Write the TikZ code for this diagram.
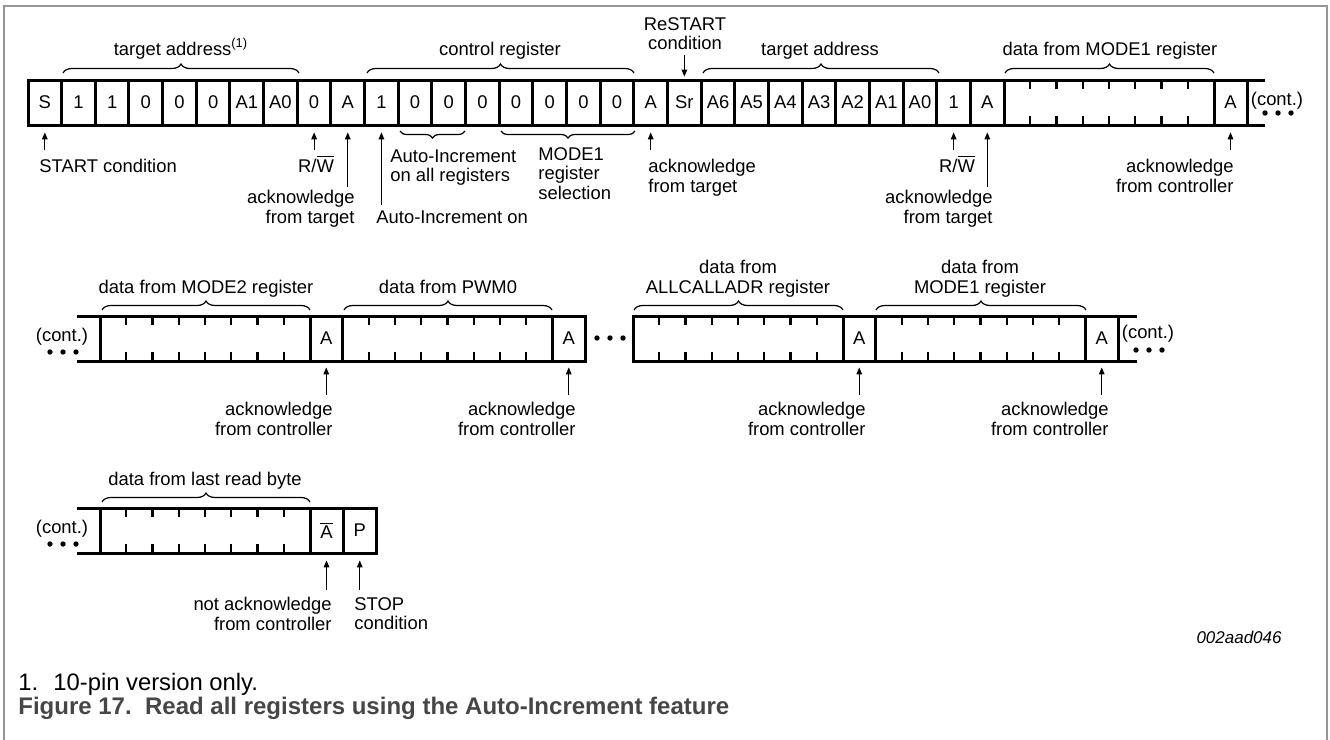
\documentclass[tikz,border=0pt]{standalone}
\usepackage{fontspec}
\setmainfont{Liberation Sans}
\usepackage{xcolor}
\usepackage{tikz}
\usetikzlibrary{arrows.meta,decorations.pathreplacing}

\definecolor{framegray}{RGB}{150,150,150}
\definecolor{captiongray}{RGB}{70,70,70}
\newcommand{\ovbar}[1]{$\overline{\hbox{#1}}$}

\begin{document}
\begin{tikzpicture}[x=0.5pt,y=-0.5pt,
  bar/.style={line width=1.5pt,line cap=rect},
  tick/.style={line width=1.2pt},
  cell/.style={minimum width=16.8pt,minimum height=22.5pt,inner sep=0pt,font=\labelfont},
  lbl/.style={inner sep=0pt,font=\labelfont},
  ptr/.style={line width=0.6pt,-{Triangle[length=3.5pt,width=2.8pt]}},
  brc/.style={line width=0.6pt,decorate,decoration={brace,amplitude=4.5pt}},
  brcdown/.style={line width=0.6pt,decorate,decoration={brace,amplitude=3.5pt,mirror}}]
\def\labelfont{\fontsize{9.2}{9.75}\selectfont}
\def\cellw{33.66}
\def\subw{26.25}
\def\dotgap{13}
\useasboundingbox (0,0) rectangle (1330,740);
\draw[framegray, line width=1pt] (4,740) -- (4,6) -- (1327,6) -- (1327,740);

\begin{scope}[shift={(0,80)}] % FIRST ROW
\draw[bar] (28,0) -- (1263,0);
\draw[bar] (28,45) -- (1263,45);
\foreach \t [count=\i from 0] in {S,1,1,0,0,0,A1,A0,0,A,1,0,0,0,0,0,0,0,A,Sr,A6,A5,A4,A3,A2,A1,A0,1,A} {
  \draw[bar] ({28+\cellw*\i},0) -- ++(0,45);
  \node[cell] (ta\i) at ({28+\cellw*(\i+0.5)},22.5) {\t};
}
\draw[bar] (1004,0) -- ++(0,45);
\foreach \k in {1,...,7} {
  \draw[tick] ({1004+\subw*\k},0) -- ++(0,9);
  \draw[tick] ({1004+\subw*\k},45) -- ++(0,-9);
}
\draw[bar] (1214,0) -- ++(0,45);
\node[cell] (tackc) at (1230.5,22.5) {A};
\draw[bar] (1247,0) -- ++(0,45);

% braces above
\draw[brc] (63,-7) -- (299,-7);
\draw[brc] (367,-7) -- (634,-7);
\draw[brc] (703,-7) -- (939,-7);
\draw[brc] (1005,-7) -- (1214,-7);
\node[lbl, anchor=base] (ltaddr1) at (181,-25) {target address\textsuperscript{(1)}};
\node[lbl, anchor=base] (lctrl) at (500,-25) {control register};
\node[lbl, anchor=base] (ltaddr2) at (820,-25) {target address};
\node[lbl, anchor=base] (lmode1a) at (1110,-25) {data from MODE1 register};
\node[lbl, anchor=north, align=center] (lrestart) at (685,-63) {ReSTART\\condition};
\coordinate (prestart) at (ta19 |- 0,-25);
\draw[ptr, shorten >=1.5pt] (prestart) -- (ta19.north);

% braces below
\draw[brcdown] (400,51) -- (465,51);
\draw[brcdown] (501,51) -- (635,51);
\node[lbl, anchor=north west, align=left] (lallreg) at (390,69) {Auto-Increment\\on all registers};
\node[lbl, anchor=north west, align=left] (lmodesel) at (538,67) {MODE1\\register\\selection};

% pointers
\coordinate (pstart) at (ta0 |- 0,70);
\coordinate (prw1) at (ta8 |- 0,70);
\coordinate (pack1) at (ta9 |- 0,107);
\coordinate (pauto) at (ta10 |- 0,125);
\coordinate (pack2) at (ta18 |- 0,70);
\coordinate (prw2) at (ta27 |- 0,70);
\coordinate (pack3) at (ta28 |- 0,107);
\coordinate (pack4) at (tackc |- 0,70);
\draw[ptr, shorten >=3.5pt] (pstart) -- (ta0.south);
\draw[ptr, shorten >=3.5pt] (prw1) -- (ta8.south);
\draw[ptr, shorten >=3.5pt] (pack1) -- (ta9.south);
\draw[ptr, shorten >=3.5pt] (pauto) -- (ta10.south);
\draw[ptr, shorten >=3.5pt] (pack2) -- (ta18.south);
\draw[ptr, shorten >=3.5pt] (prw2) -- (ta27.south);
\draw[ptr, shorten >=3.5pt] (pack3) -- (ta28.south);
\draw[ptr, shorten >=3.5pt] (pack4) -- (tackc.south);
\node[lbl, anchor=base west] (lstart) at (39,92) {START condition};
\node[lbl, anchor=base] (lrw1) at (316,92) {R/\ovbar{W}};
\node[lbl, anchor=north east, align=right] (lack1) at (355,110) {acknowledge\\from target};
\node[lbl, anchor=base west] (lauto) at (376,143) {Auto-Increment on};
\node[lbl, anchor=north west, align=left] (lack2) at (648,79) {acknowledge\\from target};
\node[lbl, anchor=base] (lrw2) at (957,92) {R/\ovbar{W}};
\node[lbl, anchor=north east, align=right] (lack3) at (993,110) {acknowledge\\from target};
\node[lbl, anchor=north east, align=right] (lack4) at (1234,79) {acknowledge\\from controller};

\node[lbl, anchor=base] (lcont1) at (1277,25) {(cont.)};
\foreach \d in {0,1,2} \fill (1265+\dotgap*\d,33) circle (2.7);
\end{scope}

\begin{scope}[shift={(0,316)}] % SECOND ROW
\draw[bar] (78,0) -- (585,0);
\draw[bar] (78,45) -- (585,45);
\draw[bar] (633,0) -- (1135,0);
\draw[bar] (633,45) -- (1135,45);
\foreach \x in {100,310,342.5,552.5,585,633,843,875.5,1085.5,1118}
  \draw[bar] (\x,0) -- ++(0,45);
\foreach \x in {100,342.5,633,875.5} {
  \foreach \k in {1,...,7} {
    \draw[tick] ({\x+\subw*\k},0) -- ++(0,9);
    \draw[tick] ({\x+\subw*\k},45) -- ++(0,-9);
  }
}
\node[cell] (sa1) at (326.25,22.5) {A};
\node[cell] (sa2) at (568.75,22.5) {A};
\node[cell] (sa3) at (859.25,22.5) {A};
\node[cell] (sa4) at (1101.75,22.5) {A};

\draw[brc] (102,-6) -- (310,-6);
\draw[brc] (344,-6) -- (552,-6);
\draw[brc] (634,-6) -- (843,-6);
\draw[brc] (876,-6) -- (1086,-6);
\node[lbl, anchor=base] (lmode2) at (206,-23) {data from MODE2 register};
\node[lbl, anchor=base] (lpwm0) at (448,-23) {data from PWM0};
\node[lbl, anchor=north, align=center] (lallcall) at (738,-56) {data from\\ALLCALLADR register};
\node[lbl, anchor=north, align=center] (lmode1b) at (980,-56) {data from\\MODE1 register};

\foreach \n in {1,2,3,4} {
  \coordinate (ps\n) at (sa\n |- 0,79);
  \draw[ptr, shorten >=3pt] (ps\n) -- (sa\n.south);
}
\node[lbl, anchor=north east, align=right] (lsack1) at (333,86) {acknowledge\\from controller};
\node[lbl, anchor=north east, align=right] (lsack2) at (576,86) {acknowledge\\from controller};
\node[lbl, anchor=north east, align=right] (lsack3) at (866,86) {acknowledge\\from controller};
\node[lbl, anchor=north east, align=right] (lsack4) at (1109,86) {acknowledge\\from controller};

\node[lbl, anchor=base] (lcont2) at (62,25) {(cont.)};
\foreach \d in {0,1,2} \fill (50+\dotgap*\d,36) circle (2.7);
\foreach \d in {0,1,2} \fill (597+\dotgap*\d,22) circle (2.7);
\node[lbl, anchor=base] (lcont3) at (1148,22) {(cont.)};
\foreach \d in {0,1,2} \fill (1136+\dotgap*\d,34) circle (2.7);
\end{scope}

\begin{scope}[shift={(0,508)}] % THIRD ROW
\draw[bar] (78,0) -- (376.5,0);
\draw[bar] (78,45) -- (376.5,45);
\foreach \x in {100,310,343,376.5}
  \draw[bar] (\x,0) -- ++(0,45);
\foreach \k in {1,...,7} {
  \draw[tick] ({100+\subw*\k},0) -- ++(0,9);
  \draw[tick] ({100+\subw*\k},45) -- ++(0,-9);
}
\node[cell] (rnack) at (326.5,22.5) {\ovbar{A}};
\node[cell] (rstop) at (359.75,22.5) {P};

\draw[brc] (102,-6) -- (310,-6);
\node[lbl, anchor=base] (llast) at (205,-23) {data from last read byte};

\coordinate (pnack) at (rnack |- 0,82);
\coordinate (pstop) at (rstop |- 0,82);
\draw[ptr, shorten >=3.5pt] (pnack) -- (rnack.south);
\draw[ptr, shorten >=3.5pt] (pstop) -- (rstop.south);
\node[lbl, anchor=north east, align=right] (lnack) at (332,89) {not acknowledge\\from controller};
\node[lbl, anchor=north west, align=left] (lstop) at (354,89) {STOP\\condition};

\node[lbl, anchor=base] (lcont4) at (62,25) {(cont.)};
\foreach \d in {0,1,2} \fill (50+\dotgap*\d,36) circle (2.7);
\end{scope}

% figure code and caption
\node[inner sep=0pt, anchor=base east, font=\fontsize{8.5}{10}\selectfont\itshape] (lcode) at (1282,643) {002aad046};
\node[inner sep=0pt, anchor=base west, font=\fontsize{11.9}{13}\selectfont] (lnote1) at (18,690) {1.};
\node[inner sep=0pt, anchor=base west, font=\fontsize{11.9}{13}\selectfont] (lnote2) at (53,690) {10-pin version only.};
\node[inner sep=0pt, anchor=base west, text=captiongray, font=\fontsize{12}{14}\selectfont\bfseries] (ltitle) at (18,714) {Figure 17.\ \ Read all registers using the Auto-Increment feature};
\end{tikzpicture}
\end{document}
